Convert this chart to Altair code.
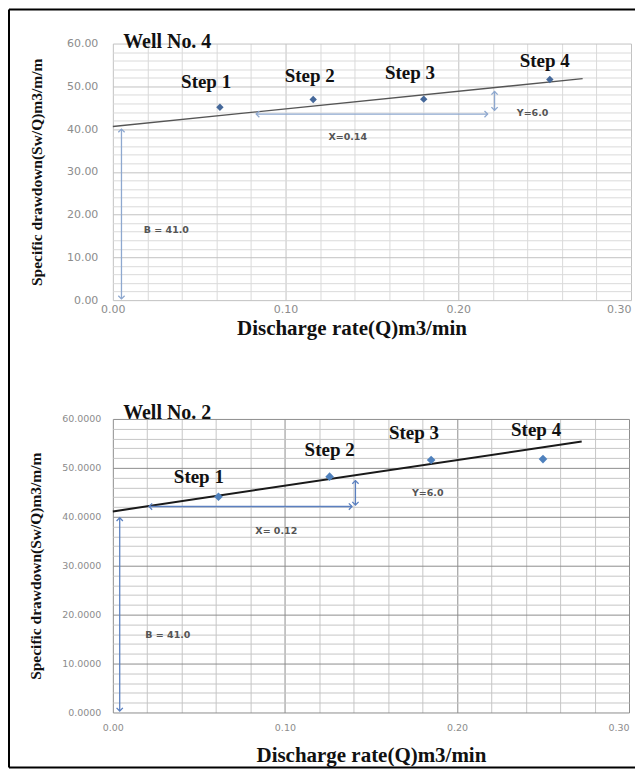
import altair as alt
import pandas as pd

# ---------------- data: Well No. 4 (top panel) ----------------
w4_q = [0.062, 0.116, 0.180, 0.253]
w4_s = [45.1, 46.9, 47.0, 51.6]
w4_steps = ["Step 1", "Step 2", "Step 3", "Step 4"]
w4_step_q = [0.054, 0.114, 0.172, 0.250]
w4_step_s = [51.1, 52.3, 53.2, 56.0]
w4_line_q = [0.0, 0.272]
w4_line_s = [40.6, 51.8]
w4_arrow_q = [0.005, 0.083, 0.221]
w4_arrow_s = [40.0, 43.5, 48.8]
w4_arrow_q2 = [0.005, 0.217, 0.221]
w4_arrow_s2 = [0.3, 43.5, 44.4]
w4_note_text = ["B = 41.0", "X=0.14", "Y=6.0"]
w4_note_q = [0.031, 0.136, 0.243]
w4_note_s = [16.3, 38.1, 43.8]

# ---------------- data: Well No. 2 (bottom panel) ----------------
w2_q = [0.0614, 0.126, 0.185, 0.250]
w2_s = [44.1, 48.2, 51.6, 51.8]
w2_steps = ["Step 1", "Step 2", "Step 3", "Step 4"]
w2_step_q = [0.050, 0.126, 0.175, 0.246]
w2_step_s = [48.2, 53.7, 57.1, 57.8]
w2_line_q = [0.0, 0.2725]
w2_line_s = [41.1, 55.4]
w2_arrow_q = [0.004, 0.021, 0.141]
w2_arrow_s = [39.8, 42.1, 47.4]
w2_arrow_q2 = [0.004, 0.139, 0.141]
w2_arrow_s2 = [0.3, 42.1, 42.4]
w2_note_text = ["B = 41.0", "X= 0.12", "Y=6.0"]
w2_note_q = [0.032, 0.095, 0.183]
w2_note_s = [15.9, 37.0, 44.8]

# axis ticks / grid positions
x_ticks = [round(i * 0.02, 2) for i in range(16)]
y_ticks = list(range(0, 62, 2))

X_TITLE = "Discharge rate(Q)m3/min"
Y_TITLE = "Specific drawdown(Sw/Q)m3/m/m"
SERIF = "Liberation Serif"

heads_domain = ["up", "down", "left", "right"]
heads_range = ["M-1,1L0,0L1,1", "M-1,-1L0,0L1,-1", "M1,-1L0,0L1,1", "M-1,-1L0,0L-1,1"]


def heads_frame(q, s, q2, s2):
    rows = []
    for a, b, c, d in zip(q, s, q2, s2):
        if a == c:  # vertical arrow
            top, bot = (b, d) if b > d else (d, b)
            rows.append({"q": a, "s": top, "dir": "up"})
            rows.append({"q": a, "s": bot, "dir": "down"})
        else:
            lft, rgt = (a, c) if a < c else (c, a)
            rows.append({"q": lft, "s": b, "dir": "left"})
            rows.append({"q": rgt, "s": b, "dir": "right"})
    return pd.DataFrame(rows)


def panel(title, q, s, steps, step_q, step_s, line_q, line_s,
          aq, as_, aq2, as2, notes, note_q, note_s,
          width, height, yfmt, label_size, label_pad_x, label_pad_y,
          title_pad_x, title_pad_y, grid_minor, grid_major,
          point_color, point_size, arrow_color, line_color, line_width,
          title_x=None, title_s=60.3, frame=False):
    x_axis = dict(
        values=x_ticks, format=".2f",
        labelExpr="abs(datum.value*10 - round(datum.value*10)) < 1e-6 ? datum.label : ''",
        labelOverlap=False, labelFlush=False,
        labelAlign={"condition": {"test": "datum.value > 0.29", "value": "right"},
                    "value": "center"},
        ticks=False, domain=False, grid=True,
        gridColor={"condition": {"test": "abs(datum.value*10 - round(datum.value*10)) < 1e-6",
                                 "value": grid_major}, "value": grid_minor},
        labelFont="DejaVu Sans", labelFontSize=label_size, labelColor="#8c8c8c",
        labelPadding=label_pad_x,
        title=X_TITLE, titleFont=SERIF, titleFontSize=21, titleFontWeight="bold",
        titleColor="#111111", titlePadding=title_pad_x,
    )
    if title_x is not None:
        x_axis["titleX"] = title_x
    y_axis = dict(
        values=y_ticks, format=yfmt,
        labelExpr="datum.value % 10 === 0 ? datum.label : ''",
        labelOverlap=False, ticks=False, domain=False, grid=True,
        gridColor={"condition": {"test": "datum.value % 10 === 0", "value": grid_major},
                   "value": grid_minor},
        labelFont="DejaVu Sans", labelFontSize=label_size, labelColor="#8c8c8c",
        labelPadding=label_pad_y,
        title=Y_TITLE, titleFont=SERIF, titleFontSize=15.5, titleFontWeight="bold",
        titleColor="#111111", titlePadding=title_pad_y,
    )
    X = alt.X("q:Q", scale=alt.Scale(domain=[0, 0.30], nice=False), axis=alt.Axis(**x_axis))
    Y = alt.Y("s:Q", scale=alt.Scale(domain=[0, 60], nice=False), axis=alt.Axis(**y_axis))

    pts = pd.DataFrame({"q": q, "s": s})
    line = pd.DataFrame({"q": line_q, "s": line_s})
    arrows = pd.DataFrame({"q": aq, "s": as_, "q2": aq2, "s2": as2})
    heads = heads_frame(aq, as_, aq2, as2)
    labels = pd.DataFrame({"q": step_q, "s": step_s, "t": steps})
    note_df = pd.DataFrame({"q": note_q, "s": note_s, "t": notes})
    ttl = pd.DataFrame({"q": [0.006], "s": [title_s], "t": [title]})

    trend = alt.Chart(line).mark_line(color=line_color, strokeWidth=line_width).encode(x=X, y=Y)
    arr = alt.Chart(arrows).mark_rule(color=arrow_color, strokeWidth=1.3).encode(
        x=X, y=Y, x2="q2:Q", y2="s2:Q")
    hd = alt.Chart(heads).mark_point(filled=False, color=arrow_color, strokeWidth=1.3,
                                     size=40, opacity=1).encode(
        x=X, y=Y,
        shape=alt.Shape("dir:N", scale=alt.Scale(domain=heads_domain, range=heads_range),
                        legend=None))
    dots = alt.Chart(pts).mark_point(shape="diamond", filled=True, color=point_color,
                                     size=point_size, opacity=1).encode(x=X, y=Y)
    steps_txt = alt.Chart(labels).mark_text(font=SERIF, fontSize=19, fontWeight="bold",
                                            color="#111111").encode(x=X, y=Y, text="t:N")
    notes_txt = alt.Chart(note_df).mark_text(font="DejaVu Sans", fontSize=9.5,
                                             fontWeight="bold", color="#555555").encode(
        x=X, y=Y, text="t:N")
    title_txt = alt.Chart(ttl).mark_text(font=SERIF, fontSize=20, fontWeight="bold",
                                         color="#111111", align="left").encode(
        x=X, y=Y, text="t:N")

    layers = [trend, arr, hd, dots, steps_txt, notes_txt, title_txt]
    if frame:
        one = pd.DataFrame({"k": [0]})
        layers += [
            alt.Chart(one).mark_rule(color="black", strokeWidth=2).encode(
                x=alt.value(-104), x2=alt.value(523), y=alt.value(-34)),
            alt.Chart(one).mark_rule(color="black", strokeWidth=2).encode(
                x=alt.value(-104), y=alt.value(-34), y2=alt.value(725)),
            alt.Chart(one).mark_rule(color="black", strokeWidth=2).encode(
                x=alt.value(-104), x2=alt.value(523), y=alt.value(725)),
        ]
    return alt.layer(*layers).properties(width=width, height=height)


top = panel("Well No. 4", w4_q, w4_s, w4_steps, w4_step_q, w4_step_s, w4_line_q, w4_line_s,
            w4_arrow_q, w4_arrow_s, w4_arrow_q2, w4_arrow_s2,
            w4_note_text, w4_note_q, w4_note_s,
            width=519, height=257, yfmt=".2f", label_size=11,
            label_pad_x=3, label_pad_y=15, title_pad_x=3, title_pad_y=22,
            grid_minor="#dadada", grid_major="#c2c2c2",
            point_color="#45689a", point_size=55, arrow_color="#8ea8cf",
            line_color="#555555", line_width=1.4, title_x=239, title_s=60.3, frame=True)

bottom = panel("Well No. 2", w2_q, w2_s, w2_steps, w2_step_q, w2_step_s, w2_line_q, w2_line_s,
               w2_arrow_q, w2_arrow_s, w2_arrow_q2, w2_arrow_s2,
               w2_note_text, w2_note_q, w2_note_s,
               width=517, height=294, yfmt=".4f", label_size=9.5,
               label_pad_x=10, label_pad_y=12, title_pad_x=13, title_pad_y=18,
               grid_minor="#c6c6c6", grid_major="#8e8e8e",
               point_color="#4f81bd", point_size=75, arrow_color="#5b80c0",
               line_color="#1a1a1a", line_width=2, title_s=61.2)

chart = alt.vconcat(top, bottom, spacing=119, bounds="flush").properties(
    padding={"left": 0, "top": 0, "right": 0, "bottom": 0}
).configure_view(stroke=None)

chart.save("out.html", embed_options={"renderer": "svg", "actions": False})
